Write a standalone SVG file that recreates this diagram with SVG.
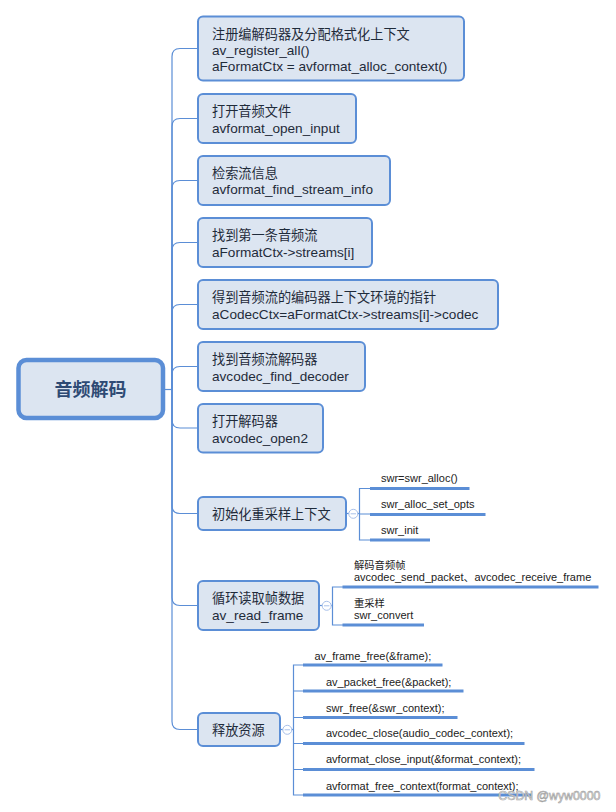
<svg xmlns="http://www.w3.org/2000/svg" width="616" height="812" viewBox="0 0 616 812">
<style>
text{font-family:"Liberation Sans","Noto Sans CJK SC",sans-serif}
.node rect{fill:#dce5f1;stroke:#5b8ed6;stroke-width:2}
.t{font-size:13.6px;fill:#1f2b3a}
.c{font-size:13.2px;fill:#1f2b3a}
.root rect{fill:#dce5f1;stroke:#5b8ed6;stroke-width:4.5}
.rt{font-size:18px;font-weight:bold;fill:#2e4a74;text-anchor:middle}
.ln{fill:none;stroke:#5b8ed6;stroke-width:1.2}
.ul{fill:none;stroke:#5b8ed6;stroke-width:3}
.ct{font-size:11px;fill:#222}
.cc{font-size:10.3px;fill:#222}
.tog circle{fill:#fff;stroke:#a9c1ea;stroke-width:1}
.tog line{stroke:#a9c1ea;stroke-width:1}
</style>
<g id="connectors">
<path class="ln" d="M163,389.5 H172"/>
<path class="ln" d="M172,389.5 V56.5 Q172,48.5 180,48.5 H198"/>
<path class="ln" d="M172,389.5 V126.5 Q172,118.5 180,118.5 H198"/>
<path class="ln" d="M172,389.5 V188.5 Q172,180.5 180,180.5 H198"/>
<path class="ln" d="M172,389.5 V250.5 Q172,242.5 180,242.5 H198"/>
<path class="ln" d="M172,389.5 V312.5 Q172,304.5 180,304.5 H198"/>
<path class="ln" d="M172,389.5 V374.5 Q172,366.5 180,366.5 H198"/>
<path class="ln" d="M172,389.5 V420 Q172,428 180,428 H198"/>
<path class="ln" d="M172,389.5 V505.5 Q172,513.5 180,513.5 H198"/>
<path class="ln" d="M172,389.5 V597.5 Q172,605.5 180,605.5 H198"/>
<path class="ln" d="M172,389.5 V721.5 Q172,729.5 180,729.5 H198"/>
<!-- node 8 children -->
<path class="ln" d="M346,513.5 H359.5"/>
<path class="ln" d="M370,488.5 H359.5 V540 H370 M359.5,514 H370"/>
<path class="ul" d="M370,488.5 H469.5 M370,514.5 H485.5 M370,540 H430"/>
<!-- node 9 children -->
<path class="ln" d="M319,605.5 H332.5"/>
<path class="ln" d="M343,587 H332.5 V625 H343"/>
<path class="ul" d="M342.5,587 H598.5 M342.5,625 H424"/>
<!-- node 10 children -->
<path class="ln" d="M280,729.5 H293.5"/>
<path class="ln" d="M303,665 H293.5 V795 H303 M293.5,691 H303 M293.5,717.5 H303 M293.5,743.5 H303 M293.5,769.5 H303"/>
<path class="ul" d="M303,665 H442.5 M303,691 H463.5 M303,717.5 H457.5 M303,743.5 H524.5 M303,769.5 H534.5 M303,795 H531.5"/>
</g>
<g id="root" class="root">
<rect x="18.5" y="360" width="144.5" height="58" rx="8"/>
<text class="rt" x="90.5" y="396.3">音频解码</text>
</g>
<g id="n1" class="node">
<rect x="198" y="16.5" width="266" height="64" rx="5"/>
<text class="c" x="212" y="38.6">注册编解码器及分配格式化上下文</text>
<text class="t" x="212" y="54.8">av_register_all()</text>
<text class="t" x="212" y="70.6">aFormatCtx = avformat_alloc_context()</text>
</g>
<g id="n2" class="node">
<rect x="198" y="94" width="158" height="49" rx="5"/>
<text class="c" x="212" y="115.8">打开音频文件</text>
<text class="t" x="212" y="132.5">avformat_open_input</text>
</g>
<g id="n3" class="node">
<rect x="198" y="156" width="192" height="49" rx="5"/>
<text class="c" x="212" y="177.8">检索流信息</text>
<text class="t" x="212" y="194.3">avformat_find_stream_info</text>
</g>
<g id="n4" class="node">
<rect x="198" y="218" width="174" height="49" rx="5"/>
<text class="c" x="212" y="240.4">找到第一条音频流</text>
<text class="t" x="212" y="256.8">aFormatCtx-&gt;streams[i]</text>
</g>
<g id="n5" class="node">
<rect x="198" y="280" width="300" height="49" rx="5"/>
<text class="c" x="212" y="302.4">得到音频流的编码器上下文环境的指针</text>
<text class="t" x="212" y="318.6">aCodecCtx=aFormatCtx-&gt;streams[i]-&gt;codec</text>
</g>
<g id="n6" class="node">
<rect x="198" y="342" width="167" height="49" rx="5"/>
<text class="c" x="212" y="364.4">找到音频流解码器</text>
<text class="t" x="212" y="380.6">avcodec_find_decoder</text>
</g>
<g id="n7" class="node">
<rect x="198" y="404" width="125" height="48.5" rx="5"/>
<text class="c" x="212" y="426.4">打开解码器</text>
<text class="t" x="212" y="442.8">avcodec_open2</text>
</g>
<g id="n8" class="node">
<rect x="198" y="497" width="148" height="33" rx="5"/>
<text class="c" x="212" y="518.7">初始化重采样上下文</text>
</g>
<g id="n8-children">
<text class="ct" x="381" y="482.2">swr=swr_alloc()</text>
<text class="ct" x="381" y="508.2">swr_alloc_set_opts</text>
<text class="ct" x="381" y="533.9">swr_init</text>
</g>
<g id="n9" class="node">
<rect x="198" y="581" width="121" height="49" rx="5"/>
<text class="c" x="212" y="603">循环读取帧数据</text>
<text class="t" x="212" y="619.8">av_read_frame</text>
</g>
<g id="n9-children">
<text class="cc" x="354" y="569.4">解码音频帧</text>
<text class="ct" x="354" y="581.2">avcodec_send_packet、avcodec_receive_frame</text>
<text class="cc" x="354" y="607">重采样</text>
<text class="ct" x="354" y="618.9">swr_convert</text>
</g>
<g id="n10" class="node">
<rect x="198" y="713" width="82" height="33" rx="5"/>
<text class="c" x="212" y="734.7">释放资源</text>
</g>
<g id="n10-children">
<text class="ct" x="314.5" y="659.6">av_frame_free(&amp;frame);</text>
<text class="ct" x="326" y="685.6">av_packet_free(&amp;packet);</text>
<text class="ct" x="326" y="711.6">swr_free(&amp;swr_context);</text>
<text class="ct" x="326" y="737.2">avcodec_close(audio_codec_context);</text>
<text class="ct" x="326" y="762.9">avformat_close_input(&amp;format_context);</text>
<text class="ct" x="326" y="789.6">avformat_free_context(format_context);</text>
</g>
<g id="toggles" class="tog">
<circle cx="353.3" cy="513.8" r="4.5"/><line x1="350.6" y1="513.8" x2="356" y2="513.8"/>
<circle cx="326.7" cy="605.8" r="4.5"/><line x1="324" y1="605.8" x2="329.4" y2="605.8"/>
<circle cx="287.3" cy="729.8" r="4.5"/><line x1="284.6" y1="729.8" x2="290" y2="729.8"/>
</g>
<text x="498.3" y="800" style="font-size:12.3px;fill:#f2f2f2;stroke:#a0a0a0;stroke-width:0.6">CSDN @wyw0000</text>
</svg>
